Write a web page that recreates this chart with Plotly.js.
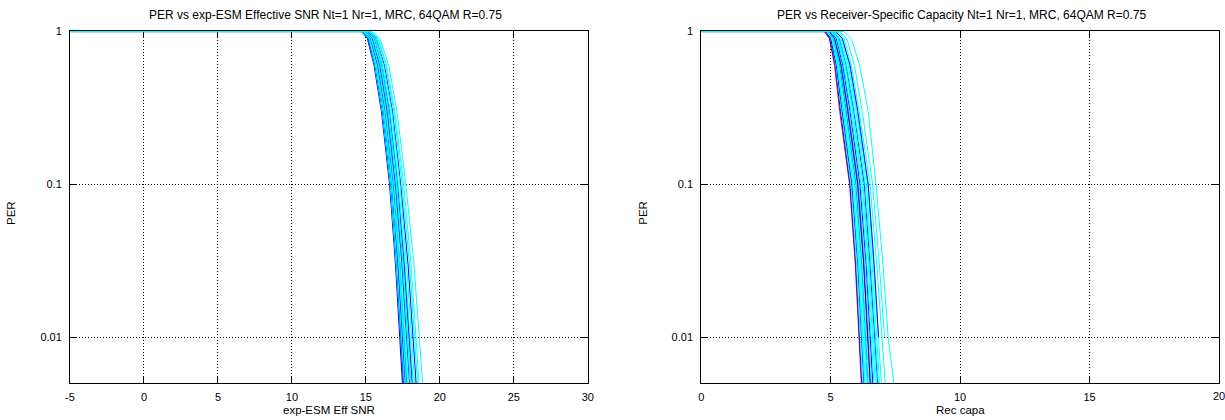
<!DOCTYPE html>
<html>
<head>
<meta charset="utf-8">
<script src="https://cdn.plot.ly/plotly-3.0.1.min.js"></script>
<style>html,body{margin:0;padding:0;background:#fff;}#chart{width:1225px;height:420px;}</style>
</head>
<body>
<div id="chart"></div>
<script>
// PER levels at which each curve's x-position is read (first point = start of flat PER=1 line)
const perLevels = [1, 1, 0.9, 0.6, 0.3, 0.1, 0.03, 0.01, 0.003];

// Left: exp-ESM effective SNR (dB) at each PER level, one row per curve
const leftCurves = [
  [-5, 14.75, 15.15, 15.6, 16.1, 16.65, 17.05, 17.35, 17.65],
  [-5, 15.0, 15.45, 15.95, 16.5, 17.1, 17.6, 17.95, 18.3],
  [-5, 14.7, 15.1, 15.55, 16.05, 16.6, 17.0, 17.3, 17.6],
  [-5, 14.7, 15.15, 15.6, 16.1, 16.65, 17.05, 17.4, 17.7],
  [-5, 14.8, 15.2, 15.65, 16.15, 16.7, 17.1, 17.4, 17.7],
  [-5, 14.8, 15.25, 15.7, 16.2, 16.75, 17.15, 17.45, 17.75],
  [-5, 14.85, 15.3, 15.75, 16.25, 16.8, 17.2, 17.5, 17.8],
  [-5, 14.9, 15.3, 15.8, 16.3, 16.85, 17.3, 17.6, 17.9],
  [-5, 14.9, 15.35, 15.85, 16.35, 16.9, 17.3, 17.65, 17.95],
  [-5, 14.95, 15.4, 15.9, 16.4, 16.95, 17.4, 17.7, 18.0],
  [-5, 15.0, 15.45, 15.95, 16.45, 17.0, 17.45, 17.8, 18.1],
  [-5, 15.0, 15.5, 16.0, 16.5, 17.05, 17.5, 17.85, 18.15],
  [-5, 14.75, 15.15, 15.65, 16.15, 16.7, 17.15, 17.5, 17.8],
  [-5, 15.1, 15.55, 16.05, 16.55, 17.1, 17.55, 17.9, 18.2],
  [-5, 15.1, 15.6, 16.1, 16.6, 17.15, 17.6, 17.95, 18.3],
  [-5, 15.15, 15.6, 16.1, 16.65, 17.2, 17.65, 18.0, 18.35],
  [-5, 15.2, 15.7, 16.25, 16.8, 17.35, 17.85, 18.2, 18.55],
  [-5, 15.2, 15.7, 16.2, 16.75, 17.3, 17.75, 18.1, 18.45],
  [-5, 14.75, 15.2, 15.65, 16.15, 16.7, 17.1, 17.45, 17.75],
  [-5, 14.85, 15.25, 15.7, 16.25, 16.8, 17.25, 17.55, 17.85],
  [-5, 15.05, 15.5, 16.0, 16.55, 17.1, 17.5, 17.85, 18.15],
  [-5, 15.3, 15.8, 16.35, 16.9, 17.45, 17.95, 18.3, 18.65],
  [-5, 15.35, 15.85, 16.4, 16.95, 17.55, 18.05, 18.4, 18.75],
  [-5, 15.4, 15.95, 16.55, 17.1, 17.7, 18.25, 18.6, 19.0]
];
const leftColors = ['red','red','blue','cyan','blue','cyan','cyan','blue','cyan','cyan','blue','cyan',
  'blue','cyan','blue','cyan','blue','cyan','cyan','cyan','cyan','cyan','cyan','cyan'];

// Right: receiver-specific capacity at each PER level
const rightCurves = [
  [0, 4.75, 4.95, 5.15, 5.35, 5.73, 5.95, 6.08, 6.25],
  [0, 4.95, 5.15, 5.4, 5.65, 6.03, 6.27, 6.42, 6.6],
  [0, 4.77, 4.97, 5.18, 5.38, 5.75, 5.97, 6.1, 6.27],
  [0, 4.8, 5.0, 5.2, 5.42, 5.78, 6.0, 6.13, 6.3],
  [0, 4.8, 5.0, 5.22, 5.45, 5.82, 6.05, 6.18, 6.35],
  [0, 4.85, 5.05, 5.27, 5.5, 5.87, 6.1, 6.23, 6.4],
  [0, 4.85, 5.08, 5.3, 5.55, 5.92, 6.15, 6.28, 6.45],
  [0, 4.9, 5.1, 5.35, 5.6, 5.97, 6.2, 6.33, 6.5],
  [0, 4.9, 5.12, 5.37, 5.62, 6.0, 6.22, 6.37, 6.55],
  [0, 4.95, 5.18, 5.43, 5.7, 6.08, 6.32, 6.47, 6.65],
  [0, 5.0, 5.22, 5.47, 5.75, 6.13, 6.37, 6.52, 6.7],
  [0, 5.0, 5.25, 5.5, 5.78, 6.17, 6.4, 6.57, 6.75],
  [0, 5.05, 5.28, 5.55, 5.83, 6.22, 6.45, 6.62, 6.8],
  [0, 5.1, 5.33, 5.6, 5.9, 6.3, 6.52, 6.7, 6.9],
  [0, 5.15, 5.4, 5.68, 5.98, 6.38, 6.6, 6.77, 6.97],
  [0, 5.2, 5.45, 5.72, 6.02, 6.43, 6.65, 6.82, 7.05],
  [0, 5.2, 5.45, 5.75, 6.05, 6.45, 6.68, 6.85],
  [0, 4.85, 5.05, 5.25, 5.48, 5.85, 6.07, 6.2, 6.37],
  [0, 4.9, 5.1, 5.32, 5.57, 5.95, 6.18, 6.32, 6.5],
  [0, 4.95, 5.15, 5.4, 5.67, 6.05, 6.28, 6.43, 6.6],
  [0, 5.05, 5.3, 5.57, 5.85, 6.25, 6.48, 6.65, 6.85],
  [0, 5.1, 5.35, 5.62, 5.92, 6.33, 6.55, 6.72, 6.92],
  [0, 5.25, 5.52, 5.8, 6.1, 6.52, 6.78, 6.97, 7.2],
  [0, 5.35, 5.62, 5.92, 6.22, 6.62, 6.88, 7.08],
  [0, 5.5, 5.8, 6.12, 6.45, 6.75, 7.02, 7.22, 7.6]
];
const rightColors = ['red','red','blue','cyan','blue','cyan','cyan','blue','cyan','cyan','blue','cyan','cyan',
  'blue','cyan','cyan','blue','cyan','cyan','blue','cyan','cyan','cyan','cyan','cyan'];

const leftTitle = 'PER vs exp-ESM Effective SNR Nt=1 Nr=1, MRC, 64QAM R=0.75';
const rightTitle = 'PER vs Receiver-Specific Capacity Nt=1 Nr=1, MRC, 64QAM R=0.75';
const leftXTitle = 'exp-ESM Eff SNR';
const rightXTitle = 'Rec capa';
const yTitle = 'PER';
const leftXTicks = [-5, 0, 5, 10, 15, 20, 25, 30];
const rightXTicks = [0, 5, 10, 15, 20];
const yTickVals = [0.01, 0.1, 1];
const yTickText = ['0.01', '0.1', '1'];
const yMinorVals = [0.006, 0.007, 0.008, 0.009, 0.02, 0.03, 0.04, 0.05, 0.06, 0.07, 0.08, 0.09,
  0.2, 0.3, 0.4, 0.5, 0.6, 0.7, 0.8, 0.9];

const traces = [];
leftCurves.forEach((xs, i) => traces.push({
  type: 'scatter', mode: 'lines', x: xs, y: perLevels.slice(0, xs.length),
  xaxis: 'x', yaxis: 'y', line: {color: leftColors[i], width: 1}, hoverinfo: 'skip', showlegend: false
}));
rightCurves.forEach((xs, i) => traces.push({
  type: 'scatter', mode: 'lines', x: xs, y: perLevels.slice(0, xs.length),
  xaxis: 'x2', yaxis: 'y2', line: {color: rightColors[i], width: 1}, hoverinfo: 'skip', showlegend: false
}));

const FONT = 'Liberation Sans, Arial, Helvetica, sans-serif';
const W = 1225, L = 70, R = 5.5, T = 31, B = 37;
const plotW = W - L - R;
const d1 = [0, (588 - L) / plotW];
const d2 = [(701.5 - L) / plotW, 1];
const yRange = [Math.log10(0.005), Math.log10(1.008)];
const GRID = {showgrid: true, gridcolor: '#000', griddash: '1px,2px', gridwidth: 1};
const tickFont = {family: FONT, size: 11, color: '#000'};

function xax(domain, range, vals, texts, anchor) {
  return Object.assign({
    domain: domain, range: range, anchor: anchor,
    tickmode: 'array', tickvals: vals, ticktext: texts,
    showline: true, linecolor: '#000', linewidth: 1, mirror: 'ticks', layer: 'below traces',
    ticks: 'inside', ticklen: 6, tickcolor: '#000', tickwidth: 1,
    zeroline: false, tickfont: tickFont,
    ticklabeloverflow: 'allow', ticklabelstandoff: 4,
    automargin: false, fixedrange: true
  }, GRID);
}
function yax(anchor) {
  return Object.assign({
    type: 'log', range: yRange, anchor: anchor, domain: [0, 1],
    tickmode: 'array', tickvals: yTickVals, ticktext: yTickText,
    showline: true, linecolor: '#000', linewidth: 1, mirror: 'ticks', layer: 'below traces',
    ticks: 'inside', ticklen: 7, tickcolor: '#000', tickwidth: 1,
    zeroline: false, tickfont: tickFont,
    ticklabelstandoff: 5,
    automargin: false, fixedrange: true
  }, GRID);
}
function yminor(anchor, over) {
  return {
    type: 'log', range: yRange, anchor: anchor, overlaying: over, domain: [0, 1],
    tickmode: 'array', tickvals: yMinorVals, ticktext: yMinorVals.map(() => ''),
    showline: false, mirror: 'ticks', layer: 'below traces',
    ticks: 'inside', ticklen: 4, tickcolor: '#000', tickwidth: 1,
    showgrid: false, zeroline: false, showticklabels: false,
    automargin: false, fixedrange: true
  };
}

const plotH = 420 - T - B;
const py = p => (420 - B - p) / plotH;
const px = p => (p - L) / plotW;
const titleFont = {family: FONT, size: 12, color: '#000'};
const annFont = {family: FONT, size: 11.5, color: '#000'};

// last right-axis tick label sits on the page edge; Plotly hides it, so draw it as an annotation at x2 = 20
const rightTickText = rightXTicks.map((v, i) => i === rightXTicks.length - 1 ? '' : String(v));
const lastRightTick = rightXTicks[rightXTicks.length - 1];

const layout = {
  width: 1225, height: 420,
  margin: {l: L, r: R, t: T, b: B, pad: 0},
  paper_bgcolor: '#fff', plot_bgcolor: '#fff',
  showlegend: false,
  xaxis: xax(d1, [-5, 30], leftXTicks, leftXTicks.map(String), 'y'),
  yaxis: yax('x'),
  xaxis2: xax(d2, [0, 20], rightXTicks, rightTickText, 'y2'),
  yaxis2: yax('x2'),
  yaxis3: yminor('x', 'y'),
  yaxis4: yminor('x2', 'y2'),
  annotations: [
    {text: leftTitle, xref: 'paper', yref: 'paper', x: px(326), y: py(15), showarrow: false, font: titleFont, xanchor: 'center', yanchor: 'middle'},
    {text: rightTitle, xref: 'paper', yref: 'paper', x: px(962), y: py(15), showarrow: false, font: titleFont, xanchor: 'center', yanchor: 'middle'},
    {text: leftXTitle, xref: 'paper', yref: 'paper', x: px(329), y: py(410), showarrow: false, font: annFont, xanchor: 'center', yanchor: 'middle'},
    {text: rightXTitle, xref: 'paper', yref: 'paper', x: px(961), y: py(410), showarrow: false, font: annFont, xanchor: 'center', yanchor: 'middle'},
    {text: yTitle, xref: 'paper', yref: 'paper', x: px(11), y: py(213), showarrow: false, font: annFont, textangle: -90, xanchor: 'center', yanchor: 'middle'},
    {text: yTitle, xref: 'paper', yref: 'paper', x: px(643), y: py(213), showarrow: false, font: annFont, textangle: -90, xanchor: 'center', yanchor: 'middle'},
    {text: String(lastRightTick), xref: 'x2', yref: 'paper', x: lastRightTick, y: py(396), showarrow: false, font: tickFont, xanchor: 'center', yanchor: 'middle'}
  ]
};

Plotly.newPlot('chart', traces, layout, {staticPlot: true, displayModeBar: false});
</script>
</body>
</html>
